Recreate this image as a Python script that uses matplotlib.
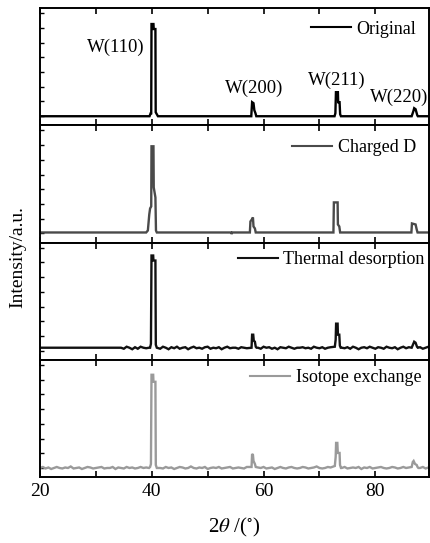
import numpy as np
import matplotlib
matplotlib.use("Agg")
import matplotlib.pyplot as plt
from matplotlib.ticker import MultipleLocator

plt.rcParams['font.family'] = ['Liberation Serif', 'DejaVu Serif']
plt.rcParams['mathtext.fontset'] = 'stix'

# ---------------- data ----------------
series_names = ["Original", "Charged D", "Thermal desorption", "Isotope exchange"]
series_colors = ["#000000", "#4a4a4a", "#111111", "#9a9a9a"]

# Original
orig_x = [20, 39.6, 39.8, 39.9, 39.95, 40.3, 40.35, 40.65, 40.7, 40.9, 41.1,
          57.8, 57.95, 58.2, 58.35, 58.55, 58.7,
          72.7, 72.85, 72.95, 73.3, 73.35, 73.6, 73.7, 73.85,
          86.5, 86.8, 86.95, 87.2, 87.5, 87.6, 90]
orig_y = [9, 9, 12, 12, 101, 101, 96, 96, 13, 11, 9,
          9, 23, 22, 15, 12, 9,
          9, 12, 33, 33, 23, 23, 11, 9,
          9, 14, 17, 16, 10, 9, 9]

# Charged D
chg_x = [20, 39.0, 39.3, 39.55, 39.7, 39.9, 39.95, 40.3, 40.35, 40.5, 40.65, 40.75, 40.9,
         54.2, 54.3, 54.4,
         57.55, 57.65, 57.9, 58.1, 58.2, 58.45, 58.6,
         72.5, 72.58, 73.25, 73.3, 73.55, 73.7,
         86.45, 86.55, 87.2, 87.4, 87.55, 90]
chg_y = [10, 10, 12, 28, 34, 36, 96, 96, 55, 50, 45, 12, 10,
         10, 8.5, 10,
         10, 21, 23, 25, 16, 14, 10,
         10, 40, 40, 18, 16, 10,
         10, 19, 18, 13, 10, 10]

# background sample positions for the noisy patterns
bg_x = [20, 20.5, 21, 21.5, 22, 22.5, 23, 23.5, 24, 24.5, 25, 25.5, 26, 26.5,
        27, 27.5, 28, 28.5, 29, 29.5, 30, 30.5, 31, 31.5, 32, 32.5, 33, 33.5,
        34, 34.5, 35, 35.5, 36, 36.5, 37, 37.5, 38, 38.5, 39,
        41.5, 42, 42.5, 43, 43.5, 44, 44.5, 45, 45.5, 46, 46.5, 47, 47.5, 48,
        48.5, 49, 49.5, 50, 50.5, 51, 51.5, 52, 52.5, 53, 53.5, 54, 54.5, 55,
        55.5, 56, 56.5, 57,
        59, 59.5, 60, 60.5, 61, 61.5, 62, 62.5, 63, 63.5, 64, 64.5, 65, 65.5,
        66, 66.5, 67, 67.5, 68, 68.5, 69, 69.5, 70, 70.5, 71, 71.5, 72,
        74, 74.5, 75, 75.5, 76, 76.5, 77, 77.5, 78, 78.5, 79, 79.5, 80, 80.5,
        81, 81.5, 82, 82.5, 83, 83.5, 84, 84.5, 85, 85.5, 86,
        88, 88.5, 89, 89.5, 90]

# Thermal desorption
td_bg_y = [12] * 29 + [12, 11, 13, 12, 10.5, 12.5, 11, 13, 12, 11.5] + \
    [11, 13, 12, 10.5, 12.5, 11.5, 13, 11, 12, 12.5, 10.5, 12, 13, 11.5, 12, 11,
     12.5, 13, 11, 12, 11.5, 12.5, 10.5, 12, 13, 11.5, 12, 12, 11, 12.5, 12, 11.5] + \
    [12, 11, 13, 12, 12.5, 11, 12, 10.5, 12.5, 12, 11.5, 13, 12, 11, 12, 12, 12.5,
     11.5, 12, 11, 13, 12, 11.5, 12.5, 11, 12, 12.5] + \
    [12, 11.5, 12.5, 11, 13, 12, 10.5, 12, 12.5, 11.5, 13, 12, 11, 12.5, 12, 11,
     13, 12, 11.5, 12.5, 10.5, 12, 13, 11.5, 12.5] + \
    [12.5, 11, 12, 13, 11.5]
td_pk_x = [39.5, 39.7, 39.85, 39.95, 40.25, 40.3, 40.65, 40.72, 40.9,
           57.85, 57.95, 58.15, 58.25, 58.45, 58.6, 58.75,
           72.75, 72.9, 72.98, 73.25, 73.3, 73.55, 73.65, 73.8,
           86.5, 86.8, 86.95, 87.2, 87.45, 87.6]
td_pk_y = [12, 12, 16, 104, 104, 99, 99, 15, 12,
           12, 25, 25, 19, 18, 13, 12,
           13, 20, 36, 36, 25, 25, 14, 12,
           12, 16, 18, 17, 13, 12]

# Isotope exchange
ie_bg_y = [9, 10, 8.5, 9.5, 8, 9, 10, 9, 8.5, 9.5, 9, 10.5, 8.5, 9, 9.5, 8, 9, 10,
           9.5, 8.5, 9, 9.5, 10, 8.5, 9, 9, 10, 8, 9.5, 9, 8.5, 10, 9, 9.5, 8.5,
           9, 10, 9, 9.5] + \
    [9, 8.5, 10, 9, 9.5, 8, 9, 10, 9.5, 8.5, 9, 10.5, 9, 8.5, 9.5, 9, 10, 8, 9,
     9.5, 9, 10, 8.5, 9, 9.5, 10, 8.5, 9, 9.5, 9, 8.5, 10] + \
    [9.5, 9, 10, 8.5, 9, 9.5, 8, 9, 10, 9, 8.5, 9.5, 10, 9, 8.5, 9, 10, 9.5, 8.5,
     9, 9.5, 10.5, 9, 8.5, 9, 10, 9.5] + \
    [9, 10, 8.5, 9, 9.5, 9, 10, 8, 9.5, 9, 10, 8.5, 9, 9.5, 10, 9, 8.5, 9, 10,
     9.5, 8.5, 9, 10, 9, 9.5] + \
    [9, 10, 8.5, 9.5, 9]
ie_pk_x = [39.5, 39.7, 39.85, 39.95, 40.25, 40.3, 40.65, 40.72, 40.9,
           57.85, 57.95, 58.1, 58.2, 58.45, 58.6,
           72.75, 72.9, 72.98, 73.2, 73.28, 73.6, 73.68, 73.85,
           86.5, 86.7, 86.85, 87.1, 87.4, 87.55, 87.7]
ie_pk_y = [9, 10, 13, 102, 102, 95, 95, 12, 9,
           10, 23, 22, 16, 13, 10,
           11, 20, 34, 34, 24, 24, 12, 9,
           10, 15, 16, 13, 12, 10, 9]

peak_labels = ["W(110)", "W(200)", "W(211)", "W(220)"]
peak_label_x = [33.6, 58.3, 73.1, 84.2]
peak_label_y = [78, 37, 45, 28]

xtick_vals = [20, 40, 60, 80]


def merged(bx, by, px, py):
    x = np.concatenate([np.asarray(bx, float), np.asarray(px, float)])
    y = np.concatenate([np.asarray(by, float), np.asarray(py, float)])
    order = np.argsort(x, kind="stable")
    return x[order], y[order]


td_x, td_y = merged(bg_x, td_bg_y, td_pk_x, td_pk_y)
ie_x, ie_y = merged(bg_x, ie_bg_y, ie_pk_x, ie_pk_y)

all_x = [orig_x, chg_x, td_x, ie_x]
all_y = [orig_y, chg_y, td_y, ie_y]

# ---------------- figure ----------------
W, H = 430, 543
fig = plt.figure(figsize=(W / 100, H / 100), dpi=100)
left, right = 40 / W, 429 / W
top, bottom = 1 - 8 / H, 1 - 477 / H
gs = fig.add_gridspec(4, 1, left=left, right=right, top=top, bottom=bottom, hspace=0)

legend_anchor = [(0.966, 0.82), (0.966, 0.81), (0.988, 0.855), (0.98, 0.846)]

axes = []
for i in range(4):
    ax = fig.add_subplot(gs[i, 0])
    axes.append(ax)
    ax.plot(all_x[i], all_y[i], color=series_colors[i], lw=1.7,
            label=series_names[i], solid_joinstyle='miter')
    ax.set_xlim(20, 89.6)
    ax.set_ylim(0, 117)
    for sp in ax.spines.values():
        sp.set_linewidth(1.4)
    ax.xaxis.set_major_locator(MultipleLocator(20))
    ax.xaxis.set_minor_locator(MultipleLocator(10))
    ax.set_yticks([9 + 14.7 * k for k in range(8)])
    ax.tick_params(axis='x', which='both', direction='in', top=True, bottom=True,
                   length=4, width=1.2, labelsize=14, pad=4)
    ax.tick_params(axis='y', which='both', direction='in', left=True, right=False,
                   length=3, width=1.0, labelleft=False)
    if i < 3:
        ax.tick_params(axis='x', labelbottom=False)
    leg = ax.legend(loc='center right', bbox_to_anchor=legend_anchor[i],
                    frameon=False, fontsize=13, handlelength=2.2,
                    handletextpad=0.3, borderpad=0, borderaxespad=0)
    for line in leg.get_lines():
        line.set_linewidth(1.5)

axes[3].set_xticks(xtick_vals)
axes[3].set_xticklabels([str(v) for v in xtick_vals])

for lab, lx, ly in zip(peak_labels, peak_label_x, peak_label_y):
    axes[0].text(lx, ly, lab, ha='center', va='center', fontsize=13.5)

fig.text(0.5 * (left + right), 1 - 527 / H, r'2$\theta$ /($^{\circ}$)',
         ha='center', va='center', fontsize=15)
fig.text(18 / W, 1 - 257 / H, 'Intensity/a.u.', rotation=90,
         ha='center', va='center', fontsize=14)

fig.savefig('out.png', dpi=100)
